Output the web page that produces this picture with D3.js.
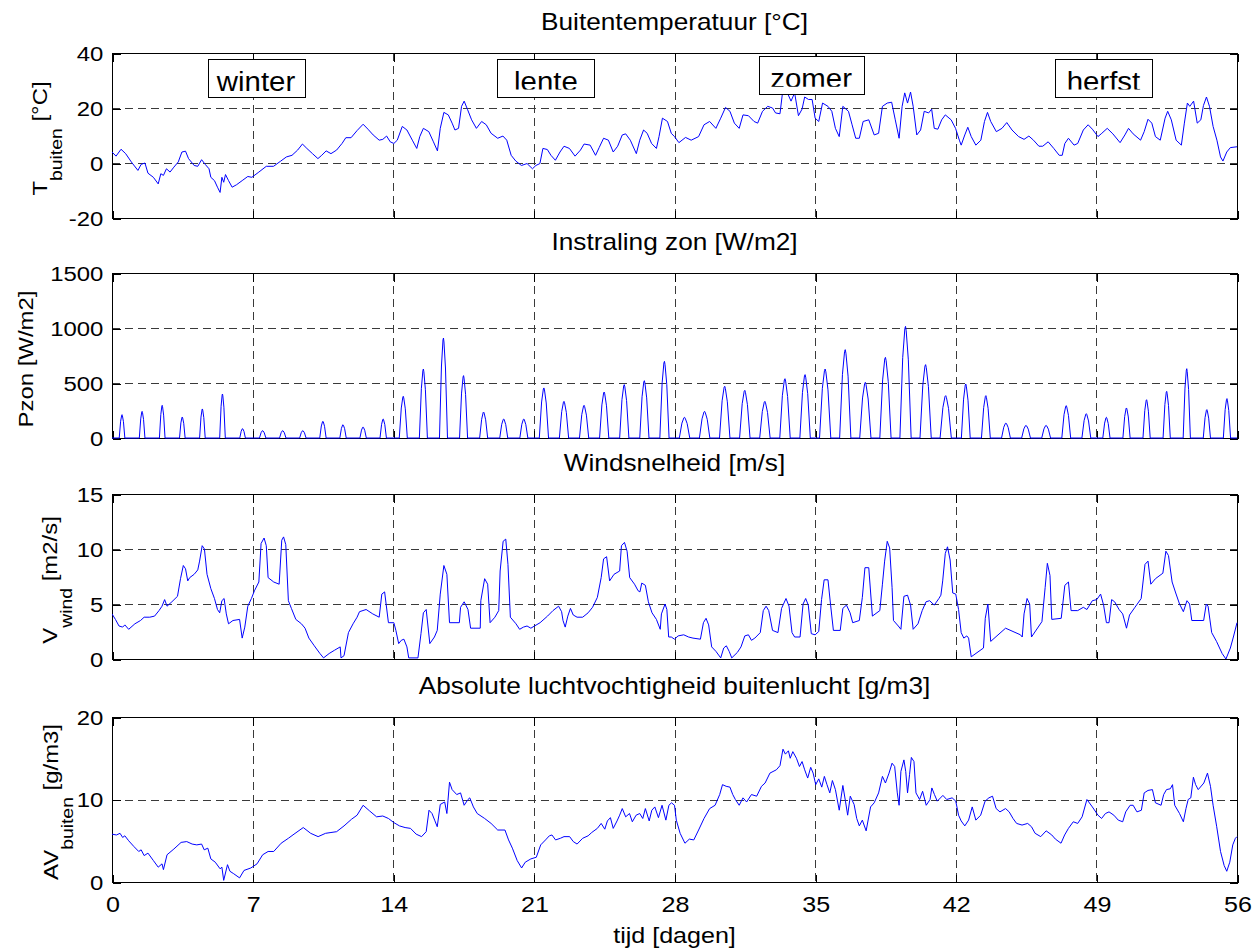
<!DOCTYPE html>
<html><head><meta charset="utf-8">
<script src="https://cdn.jsdelivr.net/npm/d3@7"></script>
<style>body{margin:0;background:#fff}svg{display:block}</style>
</head><body>
<svg id="c" width="1253" height="951"></svg>
<script>
// ---------- data ----------
const dagTicks = [0,7,14,21,28,35,42,49,56];
const tempTicks = [-20,0,20,40];
const zonTicks = [0,500,1000,1500];
const windTicks = [0,5,10,15];
const avTicks = [0,10,20];
const titels = ["Buitentemperatuur [°C]","Instraling zon [W/m2]","Windsnelheid [m/s]","Absolute luchtvochtigheid buitenlucht [g/m3]"];
const seizoenen = ["winter","lente","zomer","herfst"];
const seizoenDag = [7.17,21.6,34.8,49.35];

const tempDag = [0,0.2,0.45,0.68,0.96,1.29,1.45,1.64,1.79,2.06,2.3,2.43,2.56,2.71,2.89,3.08,3.3,3.48,3.66,3.81,4.09,4.27,4.46,4.64,4.83,4.92,5.1,5.25,5.38,5.47,5.56,5.65,5.8,5.98,6.2,6.48,6.76,6.96,7.31,7.68,8.04,8.4,8.68,8.96,9.24,9.48,9.7,9.98,10.25,10.44,10.66,10.9,11.18,11.45,11.64,11.9,12.2,12.5,12.74,13.0,13.3,13.48,13.67,13.85,14.03,14.2,14.45,14.68,14.95,15.17,15.32,15.5,15.77,16.0,16.2,16.34,16.52,16.74,16.93,17.07,17.25,17.4,17.53,17.7,17.9,18.14,18.4,18.63,18.87,19.2,19.46,19.65,19.87,20.1,20.38,20.66,20.93,21.1,21.3,21.45,21.67,21.85,22.07,22.3,22.5,22.77,23.05,23.32,23.5,23.8,24.07,24.25,24.47,24.71,24.95,25.17,25.4,25.57,25.8,26.1,26.27,26.46,26.64,26.86,27.1,27.23,27.4,27.65,27.84,28.0,28.22,28.55,28.83,29.2,29.47,29.75,30.06,30.3,30.54,30.76,30.98,31.22,31.41,31.68,31.96,32.14,32.38,32.64,32.88,33.03,33.25,33.38,33.62,33.8,33.98,34.17,34.35,34.48,34.67,34.85,35.0,35.18,35.37,35.64,35.83,36.01,36.2,36.38,36.66,36.84,37.02,37.2,37.39,37.67,37.94,38.16,38.35,38.59,38.81,38.99,39.18,39.33,39.46,39.6,39.75,39.88,40.06,40.25,40.43,40.65,40.8,40.93,41.11,41.3,41.48,41.77,41.99,42.18,42.27,42.45,42.6,42.77,43.0,43.25,43.43,43.58,43.74,44.02,44.3,44.54,44.8,45.13,45.4,45.64,45.87,46.14,46.33,46.6,46.88,47.15,47.3,47.43,47.61,47.89,48.07,48.35,48.59,48.8,49.08,49.27,49.54,49.82,50.18,50.42,50.6,50.83,51.2,51.38,51.57,51.76,51.94,52.18,52.42,52.55,52.73,52.97,53.23,53.38,53.53,53.65,53.84,54.02,54.2,54.33,54.48,54.63,54.81,55.0,55.18,55.3,55.49,55.67,56.0];
const tempWaarde = [4.0,2.5,5.0,3.4,0.4,-2.7,-0.5,0,-3.7,-5.2,-7.6,-3.9,-4.5,-2.1,-3.3,-1.5,0.4,4.0,4.3,1.6,-0.9,-1.2,1.2,-0.5,-2.1,-5.2,-6.4,-8.8,-10.7,-5.2,-7.0,-4.2,-6.4,-8.8,-7.9,-6.4,-4.9,-5.2,-3.3,-1.2,-1.2,0.7,2.2,2.8,4.7,6.9,5.3,3.4,1.6,2.8,4.4,3.4,4.7,7.1,9.2,9.2,11.8,14.1,12.3,10.2,8.3,8.6,9.8,7.7,7.1,8.3,13.3,12.0,8.3,5.3,9.6,12.6,11.4,7.7,4.4,12.6,18.4,17.5,14.5,12.0,12.6,20.6,22.5,19.4,15.7,12.6,15.1,13.9,10.8,9.0,9.8,8.3,2.8,0.7,-0.9,-0.2,-2.1,-0.9,-0.2,5.3,4.9,2.8,1.0,4.0,6.1,5.3,2.5,4.7,6.9,6.5,2.8,5.6,9.0,8.3,4.0,6.1,10.2,10.6,8.3,3.4,8.3,12.0,10.8,7.1,5.3,9.6,16.3,15.1,10.8,9.6,7.4,9.3,8.3,9.6,13.9,15.1,12.6,16.3,20.2,18.8,14.5,12.6,17.5,17.2,15.1,14.5,18.8,20.6,20.0,18.2,17.9,25.8,25.5,22.5,25.5,17.2,19.6,24.0,23.1,23.1,16.3,15.1,21.8,20.6,18.8,12.6,9.6,20.6,18.8,13.9,9.0,9.0,15.1,15.7,10.2,10.8,20.6,21.8,22.1,15.7,9.0,20.6,25.5,21.8,25.8,20.6,10.2,12.0,18.8,18.2,19.6,12.6,12.3,15.7,17.5,15.7,12.6,8.3,6.5,10.2,13.0,9.6,6.5,8.3,15.1,18.4,15.1,11.4,12.6,14.7,12.0,9.6,8.6,9.8,8.3,6.1,6.1,7.7,5.3,2.8,2.8,7.1,9.0,6.5,7.1,12.0,13.9,12.3,9.6,10.8,12.6,10.6,7.4,10.2,12.6,10.6,8.3,11.4,15.9,14.5,9.6,8.3,16.3,18.8,15.7,8.3,6.5,14.5,21.8,20.6,22.5,14.5,15.7,20.9,24.0,20.6,13.3,8.3,2.2,0.7,4.0,5.6,5.9];

const zonPiek = [212,242,297,191,264,400,85,67,67,67,152,121,100,173,379,627,909,567,236,173,173,455,333,297,418,485,521,697,188,242,470,433,333,539,576,627,803,506,733,1015,667,385,491,385,136,115,115,294,221,188,273,348,424,630,258,358];
const zonHalveDag = [0.14,0.16,0.2,0.23,0.26,0.28,0.22,0.18]; // per week (fraction of a day)

const windDag = [0,0.17,0.35,0.53,0.64,0.83,1.14,1.42,1.6,1.88,2.12,2.34,2.49,2.62,2.74,2.98,3.26,3.41,3.55,3.66,3.77,3.87,4.09,4.27,4.36,4.49,4.6,4.73,4.92,5.1,5.25,5.36,5.47,5.58,5.69,5.8,6.02,6.35,6.48,6.61,6.76,6.94,7.09,7.31,7.42,7.57,7.68,7.77,8.05,8.32,8.45,8.54,8.65,8.78,8.93,9.15,9.43,9.61,9.8,10.07,10.35,10.53,10.81,11.08,11.36,11.4,11.55,11.77,12.0,12.2,12.32,12.65,12.98,13.3,13.43,13.57,13.76,14.03,14.13,14.27,14.4,14.53,14.68,14.77,15.23,15.38,15.5,15.64,15.82,16.05,16.19,16.34,16.52,16.67,16.8,17.29,17.35,17.53,17.72,17.85,18.33,18.36,18.55,18.7,18.82,19.06,19.25,19.32,19.47,19.6,19.71,19.83,20.11,20.29,20.48,20.66,20.85,21.03,21.31,21.68,21.95,22.23,22.38,22.45,22.56,22.69,22.82,22.96,23.15,23.43,23.7,23.92,24.16,24.35,24.47,24.62,24.77,24.99,25.27,25.36,25.51,25.64,25.77,26.01,26.19,26.28,26.37,26.55,26.7,26.88,27.1,27.29,27.35,27.53,27.62,27.71,27.84,28.0,28.18,28.46,28.7,28.92,29.29,29.44,29.57,29.7,29.85,30.06,30.3,30.45,30.58,30.72,30.85,31.13,31.31,31.5,31.68,31.83,32.0,32.27,32.42,32.56,32.69,32.88,33.15,33.33,33.55,33.7,33.85,33.98,34.25,34.4,34.53,34.66,34.81,35.0,35.18,35.32,35.45,35.64,35.77,35.91,36.25,36.38,36.56,36.74,36.87,37.2,37.35,37.48,37.67,37.85,38.22,38.35,38.46,38.59,38.71,38.83,38.9,39.14,39.27,39.42,39.6,39.75,39.88,40.12,40.33,40.52,40.7,40.93,41.16,41.26,41.35,41.48,41.59,41.72,41.85,42.0,42.14,42.27,42.4,42.55,42.64,42.77,43.38,43.47,43.6,43.74,44.48,44.85,45.22,45.31,45.4,45.55,45.68,45.77,46.29,46.45,46.56,46.69,46.78,47.25,47.43,47.61,47.74,48.07,48.35,48.53,48.8,49.02,49.21,49.36,49.5,49.63,49.76,49.91,50.13,50.31,50.5,50.65,50.92,51.23,51.42,51.57,51.71,51.94,52.31,52.46,52.59,52.77,52.95,53.14,53.33,53.51,53.64,53.75,54.34,54.47,54.56,54.74,54.98,55.26,55.45,55.67,55.82,56.0];
const windWaarde = [4.1,3.6,3.0,2.9,3.1,2.7,3.2,3.5,3.8,3.8,3.9,4.4,4.8,5.4,4.8,5.2,5.7,7.3,8.5,8.2,7.1,7.4,7.7,8.1,8.9,10.3,10.0,7.7,6.4,5.5,4.5,4.2,5.3,5.5,4.1,3.2,3.5,3.6,1.9,2.9,4.8,5.5,6.2,7.0,10.5,11.0,10.3,7.4,7.0,6.8,10.8,11.1,10.4,5.3,4.6,3.6,3.2,2.8,1.9,1.2,0.5,0.1,0.5,0.8,1.1,0.1,0.3,2.4,3.2,3.8,4.3,4.5,4.1,3.8,5.9,6.1,3.3,3.3,2.6,1.4,1.7,1.8,1.1,0.1,0.1,2.3,4.2,4.5,1.4,2.0,2.6,5.9,8.5,7.7,3.3,3.3,4.7,5.2,4.5,2.8,2.8,5.3,7.3,6.8,3.3,3.8,4.4,8.0,10.7,10.9,8.6,3.8,3.2,2.7,2.9,3.0,2.8,3.0,3.3,3.9,4.4,4.8,4.3,3.5,2.9,3.9,4.6,4.0,3.8,3.8,4.2,4.7,5.6,7.4,9.1,9.3,7.1,7.7,8.0,10.3,10.6,9.8,7.4,6.8,6.2,6.1,6.9,6.7,5.2,4.2,3.6,2.7,4.1,5.0,4.5,2.0,2.0,1.8,2.1,2.2,2.0,1.9,1.8,3.3,3.7,3.1,1.1,0.7,0.1,1.0,1.2,0.7,0.1,0.6,1.1,2.1,2.2,1.7,1.9,2.4,4.4,4.8,4.4,2.6,2.4,4.6,5.5,4.8,2.4,2.0,2.0,5.0,5.5,4.9,2.3,2.2,2.5,5.4,7.2,7.2,4.9,2.6,2.6,4.6,4.9,4.2,3.3,3.5,5.6,8.3,8.3,3.9,4.4,6.8,8.9,10.7,10.1,6.5,3.5,3.0,2.7,5.7,5.8,4.9,2.7,3.2,4.4,5.2,5.3,4.9,5.5,5.8,7.1,9.6,10.2,9.0,6.0,5.9,4.5,2.4,1.9,2.1,1.9,0.2,1.0,3.7,5.0,1.6,2.8,2.5,2.2,2.0,4.1,5.5,5.0,2.0,3.4,6.5,8.7,7.6,3.6,3.7,6.7,7.0,4.4,4.4,4.7,4.5,5.3,5.4,5.9,4.9,3.3,3.3,5.4,5.2,4.5,4.1,2.8,4.0,4.7,5.5,8.6,8.9,6.8,7.3,7.8,9.8,9.4,7.0,6.0,5.0,4.3,5.3,5.0,3.5,3.5,5.0,4.8,2.4,1.6,0.5,0.0,1.0,2.0,3.3];

const avDag = [0,0.22,0.4,0.53,0.64,0.83,1.09,1.33,1.45,1.6,1.79,2.06,2.3,2.49,2.56,2.74,3.08,3.44,3.72,3.99,4.22,4.46,4.59,4.77,4.92,5.14,5.38,5.47,5.56,5.75,5.87,6.06,6.35,6.57,6.91,7.22,7.5,7.77,8.05,8.42,8.78,9.06,9.52,9.89,10.26,10.63,10.9,11.18,11.55,11.92,12.2,12.5,12.83,13.17,13.48,13.76,14.03,14.31,14.59,14.86,15.14,15.41,15.64,15.78,15.93,16.06,16.19,16.34,16.56,16.67,16.8,16.93,17.16,17.35,17.53,17.72,17.81,17.99,18.18,18.55,18.87,19.2,19.56,19.74,19.93,20.17,20.39,20.57,20.85,21.12,21.34,21.58,21.77,21.9,22.08,22.32,22.5,22.78,22.96,23.15,23.43,23.7,23.88,24.16,24.35,24.53,24.66,24.81,24.95,25.14,25.27,25.4,25.57,25.76,25.9,26.09,26.27,26.42,26.55,26.74,26.87,27.02,27.2,27.38,27.57,27.72,27.85,28.0,28.09,28.28,28.52,28.74,28.96,29.2,29.47,29.75,30.02,30.25,30.39,30.57,30.76,30.9,31.03,31.22,31.41,31.59,31.83,32.09,32.33,32.51,32.75,33.07,33.25,33.4,33.52,33.67,33.76,33.89,34.07,34.22,34.35,34.48,34.63,34.78,34.9,35.03,35.18,35.33,35.46,35.59,35.73,35.86,36.01,36.2,36.38,36.51,36.62,36.75,36.94,37.07,37.2,37.35,37.54,37.76,37.94,38.16,38.35,38.5,38.68,38.83,38.96,39.09,39.18,39.27,39.42,39.51,39.6,39.7,39.79,39.92,40.02,40.2,40.35,40.53,40.72,40.81,40.94,41.08,41.36,41.55,41.82,42.0,42.14,42.27,42.45,42.64,42.82,43.0,43.24,43.46,43.65,43.83,44.01,44.2,44.48,44.66,44.85,45.03,45.3,45.58,45.77,45.95,46.23,46.5,46.78,46.96,47.24,47.42,47.61,47.85,48.07,48.29,48.53,48.8,49.08,49.26,49.45,49.63,49.87,50.09,50.31,50.46,50.68,50.83,51.02,51.24,51.38,51.57,51.79,51.94,52.22,52.35,52.49,52.68,52.79,52.9,53.14,53.33,53.46,53.57,53.7,53.83,53.94,54.07,54.35,54.53,54.68,54.81,54.99,55.18,55.36,55.49,55.64,55.79,55.92,56.0];
const avWaarde = [5.8,5.7,5.9,5.4,5.6,5.0,4.3,3.7,3.9,3.2,3.5,2.6,1.8,2.2,1.5,3.3,4.0,4.8,4.9,4.6,4.5,4.6,3.9,4.1,2.8,2.4,1.6,1.8,0.2,2.1,1.3,1.0,0.5,1.4,1.7,2.2,3.3,3.7,3.7,4.7,5.3,5.8,6.6,5.9,5.5,5.9,6.0,6.1,6.8,7.6,8.1,9.3,8.6,7.9,8.0,7.7,7.2,6.8,6.6,6.5,5.8,5.5,6.1,8.7,8.3,7.5,6.7,9.4,9.7,8.3,12.1,11.2,10.6,10.8,9.3,10.0,10.2,9.1,8.3,7.7,7.1,6.3,6.3,5.1,4.1,2.6,1.7,2.4,2.8,3.0,4.5,5.1,5.6,5.7,5.1,5.3,5.5,5.5,4.9,4.6,5.3,5.6,6.0,6.5,7.1,6.4,7.4,7.8,6.5,7.4,8.1,8.9,7.9,8.3,7.3,8.1,8.3,7.7,8.9,7.4,8.7,9.1,7.8,9.3,7.5,9.3,9.6,9.3,7.5,5.9,4.7,5.2,5.1,6.3,7.7,8.9,9.3,10.6,11.8,11.6,11.5,10.6,10.0,9.3,10.2,9.7,10.6,10.4,11.6,12.0,13.2,13.6,14.1,16.1,15.5,15.9,15.0,15.8,15.0,14.0,14.6,13.6,12.6,13.9,13.2,11.8,12.5,11.5,12.8,11.8,10.8,12.3,11.2,8.7,11.7,9.8,8.1,10.4,9.4,7.7,6.8,7.5,6.2,9.1,9.6,10.8,12.8,12.0,13.2,14.4,14.0,10.8,9.3,13.4,14.8,13.4,10.8,13.0,15.1,14.6,10.8,10.0,11.0,9.3,10.0,11.4,10.6,9.8,10.5,10.0,10.2,9.8,8.1,7.4,6.8,7.5,9.1,7.5,8.1,9.8,10.2,10.4,8.9,8.5,8.9,8.5,7.7,7.1,6.9,7.1,6.7,5.9,5.5,6.2,5.7,5.2,4.7,5.7,6.5,7.3,7.1,7.9,10.0,9.1,8.1,7.7,8.3,8.5,8.1,7.5,7.3,8.5,9.3,9.3,8.5,8.7,10.8,11.1,11.2,9.6,9.3,10.6,11.2,11.3,11.8,9.3,8.3,7.3,8.9,10.0,10.2,12.7,11.8,11.2,12.0,13.2,11.6,9.3,6.7,3.7,2.0,1.3,2.4,4.5,5.3,5.5];

// ---------- layout ----------
const FONT = "'Liberation Sans', Arial, Helvetica, sans-serif";
const SX = 1.14;           // horizontal widening of glyphs as in the reference
const X0 = 112, X1 = 1237, PH = 165;
const x = d3.scaleLinear().domain([0,56]).range([X0, X1]);
const svg = d3.select("#c");
svg.append("rect").attr("width",1253).attr("height",951).attr("fill","#fff");
const fmt = d => String(d);   // plain hyphen-minus as in the reference

function pts(dag, val){ return dag.map((d,i)=>[d,val[i]]); }

// solar series built from daily peaks
const zonPunten = [[0,0]];
zonPiek.forEach((p,d)=>{
  const hw = zonHalveDag[Math.floor(d/7)], n = d + 0.5;
  zonPunten.push([n-hw,0],[n-hw*0.5,p*0.72],[n-hw*0.12,p*0.98],[n,p],[n+hw*0.12,p*0.96],[n+hw*0.5,p*0.7],[n+hw,0]);
});
zonPunten.push([56,0]);

const panels = [
  {top:53,  dom:[-20,40], ticks:tempTicks, data:pts(tempDag,tempWaarde), lab:["T","buiten"," [°C]"], lx:47, ly:138.5},
  {top:273, dom:[0,1500], ticks:zonTicks, data:zonPunten, lab:["Pzon [W/m2]","",""], lx:33, ly:359},
  {top:494, dom:[0,15],   ticks:windTicks, data:pts(windDag,windWaarde), lab:["V","wind"," [m2/s]"], lx:57, ly:580},
  {top:717, dom:[0,20],   ticks:avTicks, data:pts(avDag,avWaarde), lab:["AV","buiten"," [g/m3]"], lx:58, ly:802}
];

panels.forEach((P,pi)=>{
  const y = d3.scaleLinear().domain(P.dom).range([P.top+PH, P.top]);
  const g = svg.append("g");
  const bot = P.top + PH;

  // grid
  const grid = g.append("g").attr("stroke","#3a3a3a").attr("stroke-width",1).attr("stroke-dasharray","8,5").attr("shape-rendering","crispEdges");
  grid.selectAll("line.v").data(dagTicks.slice(1,-1)).join("line")
    .attr("x1",d=>Math.round(x(d))+0.5).attr("x2",d=>Math.round(x(d))+0.5)
    .attr("y1",P.top).attr("y2",bot);
  grid.selectAll("line.h").data(P.ticks.slice(1,-1)).join("line")
    .attr("y1",d=>Math.round(y(d))+0.5).attr("y2",d=>Math.round(y(d))+0.5)
    .attr("x1",X0).attr("x2",X1);

  // frame
  g.append("rect").attr("x",X0+0.5).attr("y",P.top+0.5).attr("width",X1-X0).attr("height",PH)
    .attr("fill","none").attr("stroke","#000").attr("stroke-width",1).attr("shape-rendering","crispEdges");

  // axes (inward ticks)
  const styleAxis = sel => { sel.select(".domain").remove();
    sel.selectAll("line").attr("stroke","#000").attr("shape-rendering","crispEdges");
    sel.selectAll("text").attr("font-family",FONT).attr("font-size",21).attr("fill","#000"); };
  const la = g.append("g").attr("transform",`translate(${X0+0.5},0.5)`)
    .call(d3.axisLeft(y).tickValues(P.ticks).tickSizeInner(-8).tickSizeOuter(0).tickPadding(8).tickFormat(fmt));
  styleAxis(la);
  la.selectAll("text").attr("transform",`scale(${SX},1)`);
  const ra = g.append("g").attr("transform",`translate(${X1+0.5},0.5)`)
    .call(d3.axisRight(y).tickValues(P.ticks).tickSizeInner(-8).tickSizeOuter(0).tickFormat(""));
  styleAxis(ra);
  const ta = g.append("g").attr("transform",`translate(0.5,${P.top+0.5})`)
    .call(d3.axisTop(x).tickValues(dagTicks).tickSizeInner(-8).tickSizeOuter(0).tickFormat(""));
  styleAxis(ta);
  const ba = g.append("g").attr("transform",`translate(0.5,${bot+0.5})`)
    .call(d3.axisBottom(x).tickValues(dagTicks).tickSizeInner(-8).tickSizeOuter(0).tickPadding(14)
      .tickFormat(pi===3 ? fmt : ""));
  styleAxis(ba);
  ba.selectAll("text").attr("transform",`scale(${SX},1)`).attr("font-size",22);

  // title
  svg.append("text").attr("transform",`translate(${(X0+X1)/2},${P.top-23}) scale(${SX},1)`)
    .attr("text-anchor","middle").attr("font-family",FONT).attr("font-size",23).text(titels[pi]);

  // y label
  const t = svg.append("text").attr("transform",`translate(${P.lx},${P.ly}) rotate(-90) scale(${SX},1)`)
    .attr("text-anchor","middle").attr("font-family",FONT).attr("font-size",21);
  t.append("tspan").text(P.lab[0]);
  if (P.lab[1]) {
    t.append("tspan").attr("font-size",17).attr("dy",15).text(P.lab[1]);
    t.append("tspan").attr("dy",-15).text(P.lab[2]);
  }

  // data line
  const cid = "clip"+pi;
  svg.append("clipPath").attr("id",cid).append("rect")
    .attr("x",X0).attr("y",P.top).attr("width",X1-X0+1).attr("height",PH+1.5);
  const line = d3.line().x(d=>x(d[0])).y(d=>y(d[1]));
  svg.append("path").datum(P.data).attr("clip-path",`url(#${cid})`)
    .attr("d",line).attr("fill","none").attr("stroke","#0000ff").attr("stroke-width",1).attr("stroke-linejoin","round");

  // season labels in first panel
  if (pi===0) {
    const boxW = [97,97,105,97], boxTop = [59,59,56,59], clipY = [97,89.5,86.8,89.5];
    seizoenen.forEach((s,i)=>{
      const cx = x(seizoenDag[i]), bt = boxTop[i];
      svg.append("rect").attr("x",Math.round(cx-boxW[i]/2)+0.5).attr("y",bt+0.5).attr("width",boxW[i]).attr("height",38)
        .attr("fill","#fff").attr("stroke","#000").attr("stroke-width",1).attr("shape-rendering","crispEdges");
      const id = "sc"+i;
      svg.append("clipPath").attr("id",id).append("rect").attr("x",cx-60).attr("y",bt).attr("width",120).attr("height",clipY[i]-bt);
      svg.append("g").attr("clip-path",`url(#${id})`).append("text")
        .attr("transform",`translate(${cx},${bt+32}) scale(1.05,1)`)
        .attr("text-anchor","middle").attr("font-family",FONT).attr("font-size",28).text(s);
    });
  }
});

// x label
svg.append("text").attr("transform",`translate(${(X0+X1)/2},943) scale(${SX},1)`)
  .attr("text-anchor","middle").attr("font-family",FONT).attr("font-size",22).text("tijd [dagen]");
</script>
</body></html>
